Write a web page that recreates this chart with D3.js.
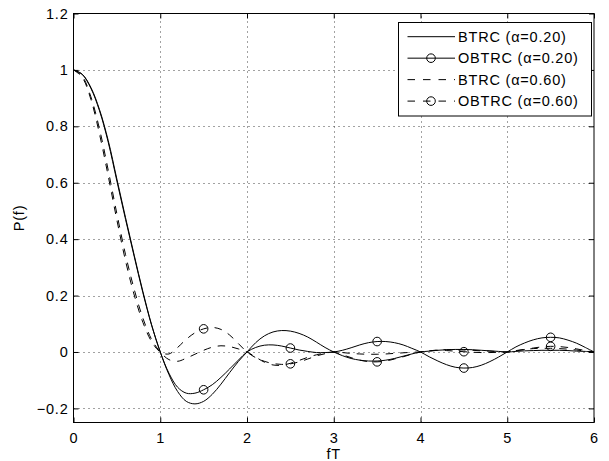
<!DOCTYPE html>
<html>
<head>
<meta charset="utf-8">
<script src="https://cdn.jsdelivr.net/npm/d3@7"></script>
<style>
  body { margin: 0; background: #fff; }
  svg { display: block; }
  text { font-family: "Liberation Sans", Arial, Helvetica, sans-serif; fill: #000; }
</style>
</head>
<body>
<svg id="chart" width="609" height="461"></svg>
<script>
// sample points along fT
var fT = [0, 0.1, 0.2, 0.3, 0.4, 0.5, 0.6, 0.7, 0.8, 0.9,
  1, 1.1, 1.2, 1.3, 1.4, 1.5, 1.6, 1.7, 1.8, 1.9,
  2, 2.1, 2.2, 2.3, 2.4, 2.5, 2.6, 2.7, 2.8, 2.9,
  3, 3.1, 3.2, 3.3, 3.4, 3.5, 3.6, 3.7, 3.8, 3.9,
  4, 4.1, 4.2, 4.3, 4.4, 4.5, 4.6, 4.7, 4.8, 4.9,
  5, 5.1, 5.2, 5.3, 5.4, 5.5, 5.6, 5.7, 5.8, 5.9, 6];

// BTRC, alpha = 0.20
var btrc20 = [1, 0.984, 0.935, 0.855, 0.744, 0.606, 0.47, 0.338, 0.21, 0.095,
  0, -0.08, -0.14, -0.175, -0.184, -0.175, -0.15, -0.114, -0.073, -0.034,
  0, 0.033, 0.057, 0.071, 0.076, 0.074, 0.066, 0.053, 0.035, 0.016,
  0, -0.013, -0.023, -0.029, -0.032, -0.032, -0.029, -0.023, -0.015, -0.007,
  0, 0.003, 0.006, 0.008, 0.009, 0.009, 0.008, 0.006, 0.004, 0.002,
  0, 0.002, 0.004, 0.005, 0.006, 0.006, 0.006, 0.005, 0.003, 0.002, 0];

// OBTRC, alpha = 0.20
var obtrc20 = [1, 0.985, 0.938, 0.859, 0.75, 0.613, 0.476, 0.343, 0.214, 0.097,
  0, -0.075, -0.125, -0.146, -0.146, -0.134, -0.116, -0.09, -0.06, -0.029,
  0, 0.016, 0.024, 0.025, 0.021, 0.014, 0.007, 0.002, -0.002, -0.002,
  0, 0.006, 0.015, 0.025, 0.033, 0.037, 0.037, 0.033, 0.025, 0.013,
  0, -0.017, -0.032, -0.045, -0.054, -0.057, -0.055, -0.047, -0.034, -0.018,
  0, 0.018, 0.032, 0.043, 0.05, 0.052, 0.05, 0.042, 0.031, 0.016, 0];

// BTRC, alpha = 0.60
var btrc60 = [1, 0.978, 0.905, 0.79, 0.645, 0.49, 0.345, 0.222, 0.12, 0.045,
  0, -0.027, -0.033, -0.022, -0.008, 0.006, 0.017, 0.022, 0.019, 0.011,
  0, -0.018, -0.036, -0.046, -0.047, -0.04, -0.03, -0.019, -0.01, -0.004,
  0, -0.002, -0.005, -0.007, -0.008, -0.008, -0.007, -0.005, -0.003, -0.001,
  0, 0.004, 0.007, 0.008, 0.008, 0.007, 0.006, 0.004, 0.003, 0.001,
  0, 0.005, 0.009, 0.012, 0.013, 0.013, 0.012, 0.01, 0.007, 0.003, 0];

// OBTRC, alpha = 0.60
var obtrc60 = [1, 0.974, 0.896, 0.772, 0.624, 0.468, 0.323, 0.202, 0.105, 0.037,
  0, -0.007, 0.016, 0.045, 0.068, 0.082, 0.087, 0.08, 0.06, 0.03,
  0, -0.02, -0.033, -0.041, -0.044, -0.042, -0.035, -0.025, -0.014, -0.006,
  0, -0.01, -0.02, -0.029, -0.034, -0.035, -0.032, -0.025, -0.017, -0.008,
  0, 0.004, 0.006, 0.005, 0.003, 0.001, -0.001, -0.002, -0.002, -0.001,
  0, 0.004, 0.009, 0.014, 0.018, 0.02, 0.019, 0.016, 0.011, 0.005, 0];

var markerAt = [1.5, 2.5, 3.5, 4.5, 5.5];

var xTicks = [0, 1, 2, 3, 4, 5, 6];
var yTicks = [-0.2, 0, 0.2, 0.4, 0.6, 0.8, 1, 1.2];
var yTickLabels = ["\u22120.2", "0", "0.2", "0.4", "0.6", "0.8", "1", "1.2"];

var seriesNames = ["BTRC (\u03b1=0.20)", "OBTRC (\u03b1=0.20)", "BTRC (\u03b1=0.60)", "OBTRC (\u03b1=0.60)"];

var series = [
  { name: seriesNames[0], values: btrc20, dash: null, marker: false },
  { name: seriesNames[1], values: obtrc20, dash: null, marker: true },
  { name: seriesNames[2], values: btrc60, dash: "7.5,7", marker: false },
  { name: seriesNames[3], values: obtrc60, dash: "7.5,7", marker: true }
];

var svg = d3.select("#chart");

var x = d3.scaleLinear().domain([0, 6]).range([73.5, 594]);
var y = d3.scaleLinear().domain([-0.25, 1.2]).range([422.5, 13.5]);

var fontSize = 14.5, spacing = 0.8;

// grid, dotted
var grid = svg.append("g")
  .attr("stroke", "#444")
  .attr("stroke-width", 1)
  .attr("stroke-dasharray", "1,4");

grid.selectAll("line.vx")
  .data(xTicks.slice(1, -1))
  .enter().append("line")
  .attr("x1", function(d) { return Math.round(x(d)) + 0.5; })
  .attr("x2", function(d) { return Math.round(x(d)) + 0.5; })
  .attr("y1", y.range()[0])
  .attr("y2", y.range()[1]);

grid.selectAll("line.hy")
  .data(yTicks.slice(0, -1))
  .enter().append("line")
  .attr("y1", function(d) { return Math.round(y(d)) + 0.5; })
  .attr("y2", function(d) { return Math.round(y(d)) + 0.5; })
  .attr("x1", x.range()[0])
  .attr("x2", x.range()[1]);

// curves
var line = d3.line()
  .x(function(d) { return x(d[0]); })
  .y(function(d) { return y(d[1]); })
  .curve(d3.curveCatmullRom.alpha(0.5));

var plot = svg.append("g");

series.forEach(function(s) {
  var pts = fT.map(function(f, i) { return [f, s.values[i]]; });

  plot.append("path")
    .datum(pts)
    .attr("fill", "none")
    .attr("stroke", "#000")
    .attr("stroke-width", 1)
    .attr("stroke-dasharray", s.dash)
    .attr("d", line);

  if (s.marker) {
    var mk = pts.filter(function(p) { return markerAt.indexOf(p[0]) > -1; });
    plot.selectAll(null)
      .data(mk)
      .enter().append("circle")
      .attr("cx", function(d) { return x(d[0]); })
      .attr("cy", function(d) { return y(d[1]); })
      .attr("r", 4.3)
      .attr("fill", "none")
      .attr("stroke", "#000")
      .attr("stroke-width", 1);
  }
});

// axes, ticks pointing inward
function styleAxis(g) {
  g.select(".domain").remove();
  g.selectAll(".tick line").attr("stroke", "#000");
  g.selectAll("text")
    .attr("font-size", fontSize)
    .attr("letter-spacing", spacing)
    .attr("font-family", "Liberation Sans, Arial, sans-serif");
}

svg.append("g")
  .attr("transform", "translate(0," + y.range()[0] + ")")
  .call(d3.axisBottom(x).tickValues(xTicks).tickFormat(d3.format("d"))
    .tickSizeInner(-5).tickSizeOuter(0).tickPadding(10))
  .call(styleAxis);

svg.append("g")
  .attr("transform", "translate(0," + y.range()[1] + ")")
  .call(d3.axisTop(x).tickValues(xTicks).tickFormat("")
    .tickSizeInner(-5).tickSizeOuter(0))
  .call(styleAxis);

svg.append("g")
  .attr("transform", "translate(" + x.range()[0] + ",0)")
  .call(d3.axisLeft(y).tickValues(yTicks)
    .tickFormat(function(d, i) { return yTickLabels[i]; })
    .tickSizeInner(-5).tickSizeOuter(0).tickPadding(5))
  .call(styleAxis);

svg.append("g")
  .attr("transform", "translate(" + x.range()[1] + ",0)")
  .call(d3.axisRight(y).tickValues(yTicks).tickFormat("")
    .tickSizeInner(-5).tickSizeOuter(0))
  .call(styleAxis);

// frame
svg.append("rect")
  .attr("x", x.range()[0])
  .attr("y", y.range()[1])
  .attr("width", x.range()[1] - x.range()[0])
  .attr("height", y.range()[0] - y.range()[1])
  .attr("fill", "none")
  .attr("stroke", "#000")
  .attr("stroke-width", 1);

// axis labels
svg.append("text")
  .attr("x", (x.range()[0] + x.range()[1]) / 2)
  .attr("y", 459)
  .attr("text-anchor", "middle")
  .attr("font-size", fontSize)
  .attr("letter-spacing", spacing)
  .text("fT");

svg.append("text")
  .attr("transform", "translate(24," + (y.range()[0] + y.range()[1]) / 2 + ") rotate(-90)")
  .attr("text-anchor", "middle")
  .attr("font-size", fontSize)
  .attr("letter-spacing", spacing)
  .text("P(f)");

// legend
var legend = svg.append("g").attr("transform", "translate(398.5,22.5)");

legend.append("rect")
  .attr("width", 193)
  .attr("height", 93.5)
  .attr("fill", "#fff")
  .attr("stroke", "#000")
  .attr("stroke-width", 1);

var rowY = d3.scaleLinear().domain([0, 3]).range([14.2, 78.6]);

series.forEach(function(s, i) {
  var ry = rowY(i);
  legend.append("line")
    .attr("x1", 9).attr("x2", 56.5)
    .attr("y1", ry).attr("y2", ry)
    .attr("stroke", "#000")
    .attr("stroke-width", 1)
    .attr("stroke-dasharray", s.dash ? "7.5,8" : null);
  if (s.marker) {
    legend.append("circle")
      .attr("cx", 32.5).attr("cy", ry)
      .attr("r", 4.3)
      .attr("fill", "none")
      .attr("stroke", "#000");
  }
  legend.append("text")
    .attr("x", 59.5)
    .attr("y", ry)
    .attr("dy", "0.35em")
    .attr("font-size", fontSize)
    .attr("letter-spacing", spacing)
    .text(s.name);
});
</script>
</body>
</html>
